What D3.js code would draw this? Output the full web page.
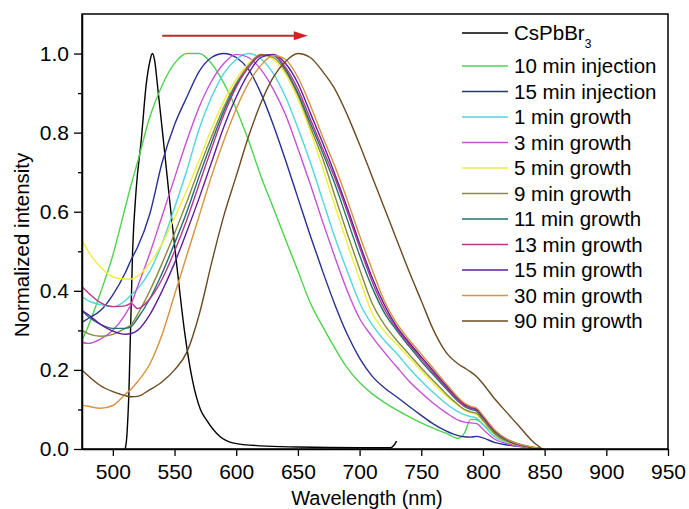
<!DOCTYPE html>
<html>
<head>
<meta charset="utf-8">
<script src="https://cdn.jsdelivr.net/npm/d3@7"></script>
<style>
  body { margin: 0; background: #fff; }
  text { font-family: "Liberation Sans", Arial, sans-serif; }
</style>
</head>
<body>
<div id="chart"></div>
<script>
// wavelength grid (nm) shared by the NC spectra
var wavelengths = [475,480,490,500,510,515,520,530,540,550,560,570,580,590,600,610,620,630,640,650,660,670,680,690,700,710,720,730,740,750,760,770,780,785,790,795,800,810,820,830,840,848];

var inj10 = [.275,.31,.395,.49,.61,.67,.725,.84,.92,.975,1,1,.975,.925,.86,.78,.69,.61,.53,.45,.37,.31,.255,.205,.168,.14,.118,.099,.082,.066,.052,.04,.027,.04,.075,.074,.062,.04,.024,.012,.005,0];
var inj15 = [.32,.33,.35,.39,.445,.48,.51,.595,.725,.82,.89,.955,.99,1,.99,.96,.9,.82,.73,.635,.54,.45,.365,.29,.23,.185,.155,.132,.108,.085,.063,.046,.034,.031,.03,.032,.028,.016,.01,.006,.003,0];
var grow1 = [.385,.375,.365,.36,.375,.39,.405,.45,.52,.61,.705,.81,.89,.95,.985,1,.987,.95,.89,.812,.726,.63,.535,.45,.37,.315,.275,.242,.205,.172,.142,.115,.094,.087,.082,.078,.062,.03,.016,.008,.003,0];
var grow3 = [.27,.267,.278,.3,.34,.368,.41,.495,.59,.685,.78,.865,.93,.975,.998,.99,.96,.91,.845,.76,.67,.575,.485,.4,.33,.285,.245,.208,.172,.142,.115,.092,.073,.068,.066,.064,.05,.024,.013,.007,.003,0];
var grow5 = [.528,.5,.46,.435,.43,.43,.437,.47,.52,.585,.655,.73,.81,.88,.935,.975,.998,.985,.948,.885,.805,.712,.615,.52,.43,.345,.298,.265,.232,.198,.165,.135,.11,.098,.092,.087,.07,.035,.018,.009,.003,0];
var grow9 = [.3,.292,.285,.29,.305,.315,.34,.4,.47,.545,.625,.71,.79,.865,.925,.97,.998,.99,.955,.895,.815,.735,.64,.545,.455,.37,.315,.275,.24,.205,.172,.14,.112,.1,.094,.09,.073,.037,.019,.009,.003,0];
var grow11 = [.35,.335,.315,.305,.305,.31,.33,.38,.445,.52,.6,.69,.775,.855,.92,.965,.995,.995,.96,.9,.825,.75,.67,.58,.49,.41,.345,.3,.26,.222,.187,.153,.12,.108,.1,.096,.078,.042,.021,.01,.004,0];
var grow13 = [.41,.395,.37,.36,.362,.368,.355,.38,.43,.5,.58,.67,.76,.845,.915,.965,.995,.997,.965,.91,.835,.76,.685,.6,.51,.425,.355,.305,.265,.228,.192,.157,.123,.11,.103,.099,.08,.044,.022,.011,.004,0];
var grow15 = [.35,.34,.315,.298,.29,.292,.3,.34,.4,.47,.55,.635,.725,.815,.89,.95,.99,.998,.975,.925,.85,.775,.695,.61,.52,.435,.365,.31,.27,.233,.197,.161,.127,.113,.106,.1,.082,.045,.023,.011,.004,0];
var grow30 = [.111,.108,.103,.11,.138,.152,.17,.215,.29,.39,.49,.59,.69,.78,.86,.925,.97,.995,.985,.94,.87,.79,.715,.63,.54,.455,.375,.318,.277,.24,.203,.166,.13,.116,.108,.103,.085,.047,.024,.012,.005,0];
var grow90 = [.2,.185,.16,.145,.135,.132,.133,.15,.17,.2,.245,.34,.47,.59,.69,.79,.875,.94,.98,1,.99,.955,.91,.845,.77,.69,.61,.53,.45,.375,.3,.245,.215,.205,.195,.183,.165,.125,.09,.055,.02,0];

// CsPbBr3 reference spectrum
var cspbWl = [510,511,513,516,519,523,527,530,532,534,536,541,546,552,558,565,571,576,587,598,620,650,700,725,728,730];
var cspbVal = [0,.02,.14,.5,.66,.78,.92,.98,1,.98,.925,.78,.63,.46,.3,.167,.1,.073,.031,.015,.008,.005,.003,.003,.01,.02];

var labels = ["10 min injection","15 min injection","1 min growth","3 min growth","5 min growth","9 min growth","11 min growth","13 min growth","15 min growth","30 min growth","90 min growth"];
var colors = ["#4fd24f","#27308f","#4fd6df","#c552d3","#f0ee3c","#8b8a3c","#1f7073","#b9358f","#5b209c","#d9923c","#6b4a20"];
var values = [inj10,inj15,grow1,grow3,grow5,grow9,grow11,grow13,grow15,grow30,grow90];

var xTicks = [500,550,600,650,700,750,800,850,900,950];
var yTicks = [0,0.2,0.4,0.6,0.8,1.0];
var yMinor = [0.1,0.3,0.5,0.7,0.9];
var arrowFrom = 540, arrowTo = 658, arrowLevel = 1.045;

var width = 689, height = 509;
var margin = {top: 14, right: 21, bottom: 60, left: 82};

var svg = d3.select("#chart").append("svg")
    .attr("width", width)
    .attr("height", height);

var x = d3.scaleLinear().domain([475, 950]).range([margin.left, width - margin.right]);
var y = d3.scaleLinear().domain([0, 1.1]).range([height - margin.bottom, margin.top]);

var line = d3.line()
    .x(function(d) { return x(d[0]); })
    .y(function(d) { return y(d[1]); })
    .curve(d3.curveMonotoneX);

var series = [{name: "CsPbBr3", color: "#000", pts: d3.zip(cspbWl, cspbVal)}];
values.forEach(function(v, i) {
  series.push({name: labels[i], color: colors[i], pts: d3.zip(wavelengths, v)});
});

var g = svg.append("g");
g.selectAll("path.spec")
  .data(series)
  .enter().append("path")
    .attr("class", "spec")
    .attr("d", function(d) { return line(d.pts); })
    .attr("fill", "none")
    .attr("stroke", function(d) { return d.color; })
    .attr("stroke-width", 1.4);

// red arrow
var arrowY = y(arrowLevel);
svg.append("line")
    .attr("x1", x(arrowFrom)).attr("x2", x(arrowTo) - 12)
    .attr("y1", arrowY).attr("y2", arrowY)
    .attr("stroke", "#b8302c").attr("stroke-width", 2);
svg.append("path")
    .attr("d", "M" + x(arrowTo) + "," + arrowY + " l-14,-4.5 l0,9 z")
    .attr("fill", "#d92020");

// frame
svg.append("rect")
    .attr("x", margin.left).attr("y", margin.top)
    .attr("width", width - margin.right - margin.left)
    .attr("height", height - margin.bottom - margin.top)
    .attr("fill", "none").attr("stroke", "#000").attr("stroke-width", 1.5);

var xAxis = svg.append("g")
    .attr("transform", "translate(0," + (height - margin.bottom) + ")")
    .call(d3.axisBottom(x).tickValues(xTicks).tickSize(7).tickPadding(8).tickSizeOuter(0));
var yAxis = svg.append("g")
    .attr("transform", "translate(" + margin.left + ",0)")
    .call(d3.axisLeft(y).tickValues(yTicks).tickFormat(d3.format(".1f")).tickSize(8).tickPadding(5).tickSizeOuter(0));
svg.append("g")
    .attr("transform", "translate(" + margin.left + ",0)")
    .call(d3.axisLeft(y).tickValues(yMinor).tickFormat("").tickSize(4).tickSizeOuter(0))
    .select(".domain").remove();

svg.selectAll(".domain").attr("stroke-width", 1.5);
svg.selectAll(".tick line").attr("stroke-width", 1.3);
svg.selectAll(".tick text")
    .attr("font-size", "21px")
    .attr("font-family", "Liberation Sans, Arial, sans-serif")
    .attr("fill", "#000");

svg.append("text")
    .attr("x", 367).attr("y", 505)
    .attr("text-anchor", "middle")
    .attr("font-size", "20px")
    .text("Wavelength (nm)");
svg.append("text")
    .attr("transform", "translate(29,245) rotate(-90)")
    .attr("text-anchor", "middle")
    .attr("font-size", "20.5px")
    .text("Normalized intensity");

// legend
var legend = svg.append("g");
series.forEach(function(d, i) {
  var ly = i === 0 ? 33 : 66 + (i - 1) * 25.5;
  legend.append("line")
      .attr("x1", 462).attr("x2", 508)
      .attr("y1", ly).attr("y2", ly)
      .attr("stroke", d.color).attr("stroke-width", 1.5);
  var t = legend.append("text")
      .attr("x", 514).attr("y", ly)
      .attr("dy", "0.36em")
      .attr("font-size", "20.5px");
  if (i === 0) {
    t.text("CsPbBr");
    t.append("tspan").attr("font-size", "12px").attr("dy", "8").text("3");
  } else {
    t.text(d.name);
  }
});
</script>
</body>
</html>
